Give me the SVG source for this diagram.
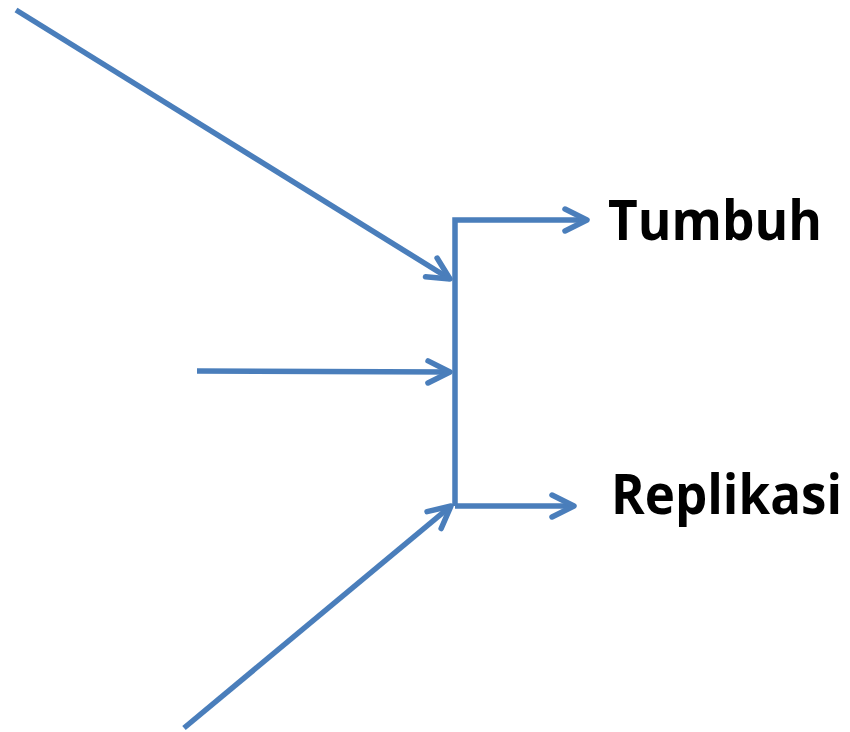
<svg xmlns="http://www.w3.org/2000/svg" width="850" height="732" viewBox="0 0 850 732">
  <style>
    .ln { fill: none; stroke: #4A7EBB; stroke-width: 5.5; }
    .lbl { font-family: "Open Sans", "Liberation Sans", sans-serif; font-weight: bold; font-size: 56px; fill: #000000; }
  </style>
  <defs>
    <marker id="arr" markerUnits="userSpaceOnUse" viewBox="-30 -16 34 32" refX="0" refY="0" markerWidth="34" markerHeight="32" orient="auto">
      <path d="M-22,-11 L0,0 L-22,11" fill="none" stroke="#4A7EBB" stroke-width="5.5" stroke-linecap="round" stroke-linejoin="round"/>
    </marker>
  </defs>
  <rect width="850" height="732" fill="#ffffff"/>
  <g id="connectors">
    <path class="ln" d="M16,10 L450,279" marker-end="url(#arr)"/>
    <path class="ln" d="M197,371 L450,372" marker-end="url(#arr)"/>
    <path class="ln" d="M184,728 L451,506" marker-end="url(#arr)"/>
    <path class="ln" d="M455,506 V220 H587" marker-end="url(#arr)" stroke-linejoin="miter"/>
    <path class="ln" d="M455,506 H574" marker-end="url(#arr)"/>
  </g>
  <g id="node-tumbuh">
    <text class="lbl" x="608" y="240" textLength="214" lengthAdjust="spacingAndGlyphs">Tumbuh</text>
  </g>
  <g id="node-replikasi">
    <text class="lbl" x="611" y="514" textLength="231" lengthAdjust="spacingAndGlyphs">Replikasi</text>
  </g>
</svg>
